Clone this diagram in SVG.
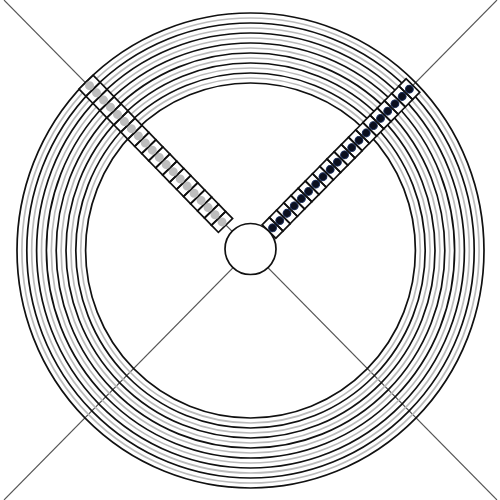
<svg xmlns="http://www.w3.org/2000/svg" width="500" height="500" viewBox="0 0 500 500">
<style>
.d{stroke:#555;stroke-width:1.1;fill:none}
.k{fill:none;stroke:#111;stroke-width:1.7}
.g{fill:none;stroke:#bbb;stroke-width:1.7}
.c{fill:none;stroke:#111;stroke-width:1.7}
.bd{fill:#0b0f1e;stroke:#1c2f5c;stroke-width:1}
.gd{fill:#bdbdbd}
</style>
<defs>
<g id="cb"><rect class="c" x="0" y="-9.6" width="10.25" height="19.2"/><circle class="bd" cx="5.12" cy="0" r="3.9"/></g>
<g id="cg"><rect class="c" x="0" y="-9.9" width="10" height="19.8"/><circle class="gd" cx="5" cy="0" r="4.5"/></g>
</defs>
<g id="diagonals">
<line class="d" x1="4" y1="0" x2="497" y2="500"/>
<line class="d" x1="497" y1="0" x2="4" y2="500"/>
</g>
<g id="rings">
<ellipse class="k" cx="250.5" cy="250.5" rx="233.5" ry="237.5"/>
<ellipse class="g" cx="250.5" cy="250.5" rx="228.6" ry="232.5"/>
<ellipse class="k" cx="250.5" cy="250.5" rx="223.7" ry="227.5"/>
<ellipse class="g" cx="250.5" cy="250.5" rx="218.8" ry="222.5"/>
<ellipse class="k" cx="250.5" cy="250.5" rx="213.9" ry="217.5"/>
<ellipse class="g" cx="250.5" cy="250.5" rx="209" ry="212.5"/>
<ellipse class="k" cx="250.5" cy="250.5" rx="204.1" ry="207.5"/>
<ellipse class="g" cx="250.5" cy="250.5" rx="199.2" ry="202.5"/>
<ellipse class="k" cx="250.5" cy="250.5" rx="194.3" ry="197.5"/>
<ellipse class="g" cx="250.5" cy="250.5" rx="189.4" ry="192.5"/>
<ellipse class="k" cx="250.5" cy="250.5" rx="184.5" ry="187.5"/>
<ellipse class="g" cx="250.5" cy="250.5" rx="179.6" ry="182.5"/>
<ellipse class="k" cx="250.5" cy="250.5" rx="174.7" ry="177.5"/>
<ellipse class="g" cx="250.5" cy="250.5" rx="169.8" ry="172.5"/>
<ellipse class="k" cx="250.5" cy="250.5" rx="164.9" ry="167.5"/>
</g>
<g id="strip-left" transform="translate(225.5 225.5) rotate(225.8)">
<rect x="0" y="-9.9" width="200" height="19.8" fill="#fff"/>
<use href="#cg" x="0"/><use href="#cg" x="10"/><use href="#cg" x="20"/><use href="#cg" x="30"/><use href="#cg" x="40"/><use href="#cg" x="50"/><use href="#cg" x="60"/><use href="#cg" x="70"/><use href="#cg" x="80"/><use href="#cg" x="90"/><use href="#cg" x="100"/><use href="#cg" x="110"/><use href="#cg" x="120"/><use href="#cg" x="130"/><use href="#cg" x="140"/><use href="#cg" x="150"/><use href="#cg" x="160"/><use href="#cg" x="170"/><use href="#cg" x="180"/><use href="#cg" x="190"/>
</g>
<g id="strip-right" transform="translate(269 231.5) rotate(-45.4)">
<rect x="0" y="-9.6" width="205" height="19.2" fill="#fff"/>
<use href="#cb" x="0"/><use href="#cb" x="10.25"/><use href="#cb" x="20.5"/><use href="#cb" x="30.75"/><use href="#cb" x="41"/><use href="#cb" x="51.25"/><use href="#cb" x="61.5"/><use href="#cb" x="71.75"/><use href="#cb" x="82"/><use href="#cb" x="92.25"/><use href="#cb" x="102.5"/><use href="#cb" x="112.75"/><use href="#cb" x="123"/><use href="#cb" x="133.25"/><use href="#cb" x="143.5"/><use href="#cb" x="153.75"/><use href="#cb" x="164"/><use href="#cb" x="174.25"/><use href="#cb" x="184.5"/><use href="#cb" x="194.75"/>
</g>
<g id="hub"><circle cx="250.5" cy="249" r="25.5" fill="#fff" stroke="#111" stroke-width="1.7"/></g>
</svg>
